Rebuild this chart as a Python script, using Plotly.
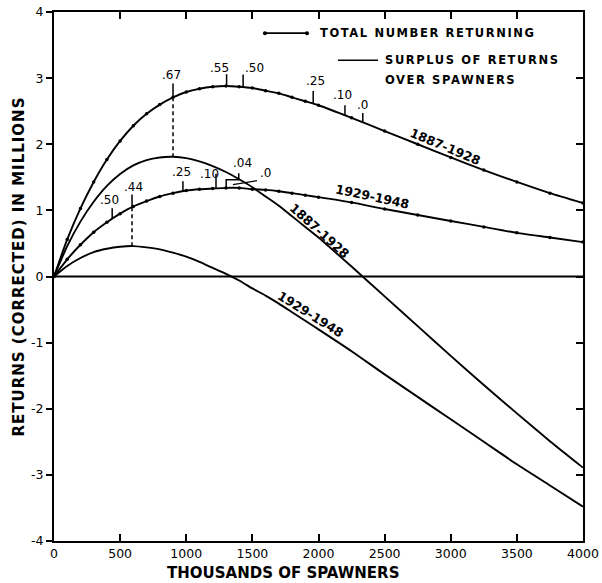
import numpy as np
import plotly.graph_objects as go

# Spawners (thousands) and returns (millions, corrected)
spawners = [0, 100, 200, 300, 400, 500, 600, 700, 800, 900, 1000, 1100, 1200, 1300,
            1400, 1500, 1600, 1700, 1800, 1900, 2000, 2250, 2500, 2750, 3000, 3250,
            3500, 3750, 4000]
total_1887_1928 = [0, 0.56, 1.03, 1.43, 1.77, 2.05, 2.28, 2.46, 2.60, 2.71, 2.79, 2.84,
                   2.87, 2.88, 2.87, 2.85, 2.81, 2.77, 2.71, 2.65, 2.59, 2.40, 2.20, 2.00,
                   1.80, 1.61, 1.43, 1.26, 1.11]
surplus_1887_1928 = [0, 0.46, 0.83, 1.13, 1.37, 1.55, 1.68, 1.76, 1.80, 1.81, 1.79, 1.74,
                     1.67, 1.58, 1.47, 1.35, 1.21, 1.07, 0.91, 0.75, 0.59, 0.15, -0.30,
                     -0.75, -1.20, -1.64, -2.07, -2.49, -2.89]
total_1929_1948 = [0, 0.26, 0.48, 0.67, 0.82, 0.95, 1.06, 1.14, 1.21, 1.26, 1.30, 1.32,
                   1.33, 1.34, 1.34, 1.32, 1.31, 1.29, 1.26, 1.23, 1.20, 1.12, 1.02, 0.93,
                   0.84, 0.75, 0.66, 0.59, 0.52]
surplus_1929_1948 = [0, 0.16, 0.28, 0.37, 0.42, 0.45, 0.46, 0.44, 0.41, 0.36, 0.30, 0.22,
                     0.13, 0.04, -0.06, -0.18, -0.29, -0.41, -0.54, -0.67, -0.80, -1.13,
                     -1.48, -1.82, -2.16, -2.50, -2.84, -3.16, -3.48]

# Rates of exploitation marked along the total-return curves
rates_1887_1928 = [".67", ".55", ".50", ".25", ".10", ".0"]
rate_spawners_1887_1928 = [900, 1305, 1430, 1960, 2200, 2335]
rates_1929_1948 = [".50", ".44", ".25", ".10"]
rate_spawners_1929_1948 = [440, 590, 975, 1225]

x_ticks = [0, 500, 1000, 1500, 2000, 2500, 3000, 3500, 4000]
y_ticks = [-4, -3, -2, -1, 0, 1, 2, 3, 4]
y_tick_text = ["-4", "-3", "-2", "-1", "0", "1", "2", "3", "4"]

INK = "black"
FONT = "DejaVu Sans"


def at(x, series):
    return float(np.interp(x, spawners, series))


fig = go.Figure()

for ys, with_dots in [(total_1887_1928, True), (total_1929_1948, True),
                      (surplus_1887_1928, False), (surplus_1929_1948, False)]:
    fig.add_trace(go.Scatter(
        x=spawners, y=ys,
        mode="lines+markers" if with_dots else "lines",
        line=dict(color=INK, width=1.9, shape="spline", smoothing=0.6),
        marker=dict(color=INK, size=3.5),
        showlegend=False, hoverinfo="skip"))

# key: dotted line for totals
fig.add_trace(go.Scatter(
    x=[1595, 1913], y=[3.68, 3.68], mode="lines+markers",
    line=dict(color=INK, width=1.6), marker=dict(color=INK, size=4),
    showlegend=False, hoverinfo="skip"))
fig.add_trace(go.Scatter(
    x=[2147, 2450], y=[3.27, 3.27], mode="lines",
    line=dict(color=INK, width=1.6), showlegend=False, hoverinfo="skip"))

# invisible trace carrying the right-hand axis
fig.add_trace(go.Scatter(x=[0], y=[0], yaxis="y2", mode="markers",
                         marker=dict(opacity=0), showlegend=False, hoverinfo="skip"))

shapes = []
annotations = []

# zero line
shapes.append(dict(type="line", x0=0, x1=4000, y0=0, y1=0,
                   line=dict(color=INK, width=1.8)))

label_font = dict(family=FONT, size=12, color=INK)

# rate ticks on 1887-1928 totals
label_pos_1887 = [(892, 3.04), (1255, 3.16), (1515, 3.16), (1975, 2.95), (2185, 2.74), (2330, 2.60)]
tick_len_1887 = [0.21, 0.18, 0.19, 0.19, 0.15, 0.14]
for txt, sx, (lx, ly), tl in zip(rates_1887_1928, rate_spawners_1887_1928, label_pos_1887, tick_len_1887):
    y0 = at(sx, total_1887_1928)
    shapes.append(dict(type="line", x0=sx, x1=sx, y0=y0, y1=y0 + tl,
                       line=dict(color=INK, width=1.5)))
    annotations.append(dict(x=lx, y=ly, text=txt, showarrow=False, font=label_font,
                            xanchor="center", yanchor="middle"))

# rate ticks on 1929-1948 totals
label_pos_1929 = [(420, 1.16), (600, 1.36), (965, 1.58), (1175, 1.55)]
tick_len_1929 = [0.16, 0.19, 0.15, 0.22]
for txt, sx, (lx, ly), tl in zip(rates_1929_1948, rate_spawners_1929_1948, label_pos_1929, tick_len_1929):
    y0 = at(sx, total_1929_1948)
    shapes.append(dict(type="line", x0=sx, x1=sx, y0=y0, y1=y0 + tl,
                       line=dict(color=INK, width=1.5)))
    annotations.append(dict(x=lx, y=ly, text=txt, showarrow=False, font=label_font,
                            xanchor="center", yanchor="middle"))

# ".04" bracket and ".0" leader
yb = at(1302, total_1929_1948)
shapes.append(dict(type="path",
                   path=f"M 1302 {yb} L 1302 1.465 L 1397 1.465 L 1397 1.56",
                   line=dict(color=INK, width=1.5)))
annotations.append(dict(x=1425, y=1.71, text=".04", showarrow=False, font=label_font))
shapes.append(dict(type="line", x0=1353, y0=1.39, x1=1535, y1=1.45,
                   line=dict(color=INK, width=1.3)))
annotations.append(dict(x=1600, y=1.56, text=".0", showarrow=False, font=label_font))

# dashed drops from the 'optimum' rates to the surplus maxima
for sx, tot, sur in [(900, total_1887_1928, surplus_1887_1928),
                     (590, total_1929_1948, surplus_1929_1948)]:
    shapes.append(dict(type="line", x0=sx, x1=sx, y0=at(sx, tot), y1=at(sx, sur),
                       line=dict(color=INK, width=1.5, dash="4px,3px")))

# period labels along the curves
curve_font = dict(family=FONT, size=12.5, color=INK)
for txt, x, y, ang in [("1887-1928", 2957, 1.97, 23),
                       ("1929-1948", 2405, 1.21, 12),
                       ("1887-1928", 2004, 0.69, 42),
                       ("1929-1948", 1943, -0.58, 32)]:
    annotations.append(dict(x=x, y=y, text=f"<b>{txt}</b>", showarrow=False,
                            textangle=ang, font=curve_font))

# key text
key_font = dict(family=FONT, size=11.5, color=INK)
spaced = '<span style="letter-spacing:1.6px">{}</span>'
annotations.append(dict(x=1996, y=3.68, text="<b>" + spaced.format("TOTAL NUMBER RETURNING") + "</b>",
                        showarrow=False, xanchor="left", yanchor="middle", font=key_font))
annotations.append(dict(x=2488, y=3.27, text="<b>" + spaced.format("SURPLUS OF RETURNS") + "</b>",
                        showarrow=False, xanchor="left", yanchor="middle", font=key_font))
annotations.append(dict(x=2488, y=2.97, text="<b>" + spaced.format("OVER SPAWNERS") + "</b>",
                        showarrow=False, xanchor="left", yanchor="middle", font=key_font))

# axis titles
title_font = dict(family=FONT, size=15, color=INK)
annotations.append(dict(xref="paper", yref="paper", x=0.433, y=-0.0605,
                        text="<b>THOUSANDS OF SPAWNERS</b>", showarrow=False,
                        xanchor="center", yanchor="middle", font=title_font))
annotations.append(dict(xref="paper", yref="paper", x=-0.067, y=0.518,
                        text="<b>" + '<span style="letter-spacing:1px">RETURNS (CORRECTED) IN MILLIONS</span>' + "</b>",
                        showarrow=False, textangle=-90,
                        xanchor="center", yanchor="middle", font=title_font))

tick_font = dict(family=FONT, size=12.5, color=INK)
fig.update_layout(
    width=602, height=583,
    margin=dict(l=54, r=19, t=12, b=42),
    paper_bgcolor="white", plot_bgcolor="white",
    showlegend=False,
    shapes=shapes, annotations=annotations,
    xaxis=dict(range=[0, 4000], tickvals=x_ticks, ticks="inside", ticklen=7,
               tickwidth=1.5, tickcolor=INK, showline=True, linewidth=2,
               linecolor=INK, mirror="ticks", showgrid=False, zeroline=False,
               tickfont=tick_font, fixedrange=True, automargin=False),
    yaxis=dict(range=[-4, 4], tickvals=y_ticks, ticktext=y_tick_text,
               ticks="outside", ticklen=6, tickwidth=1.5, tickcolor=INK,
               showline=True, linewidth=2, linecolor=INK, showgrid=False,
               zeroline=False, tickfont=tick_font, fixedrange=True, automargin=False),
    yaxis2=dict(range=[-4, 4], tickvals=y_ticks, overlaying="y", side="right",
                ticks="inside", ticklen=7, tickwidth=1.5, tickcolor=INK,
                showline=True, linewidth=2, linecolor=INK, showgrid=False,
                zeroline=False, showticklabels=False, fixedrange=True, automargin=False),
)

fig.write_html("out.html")
